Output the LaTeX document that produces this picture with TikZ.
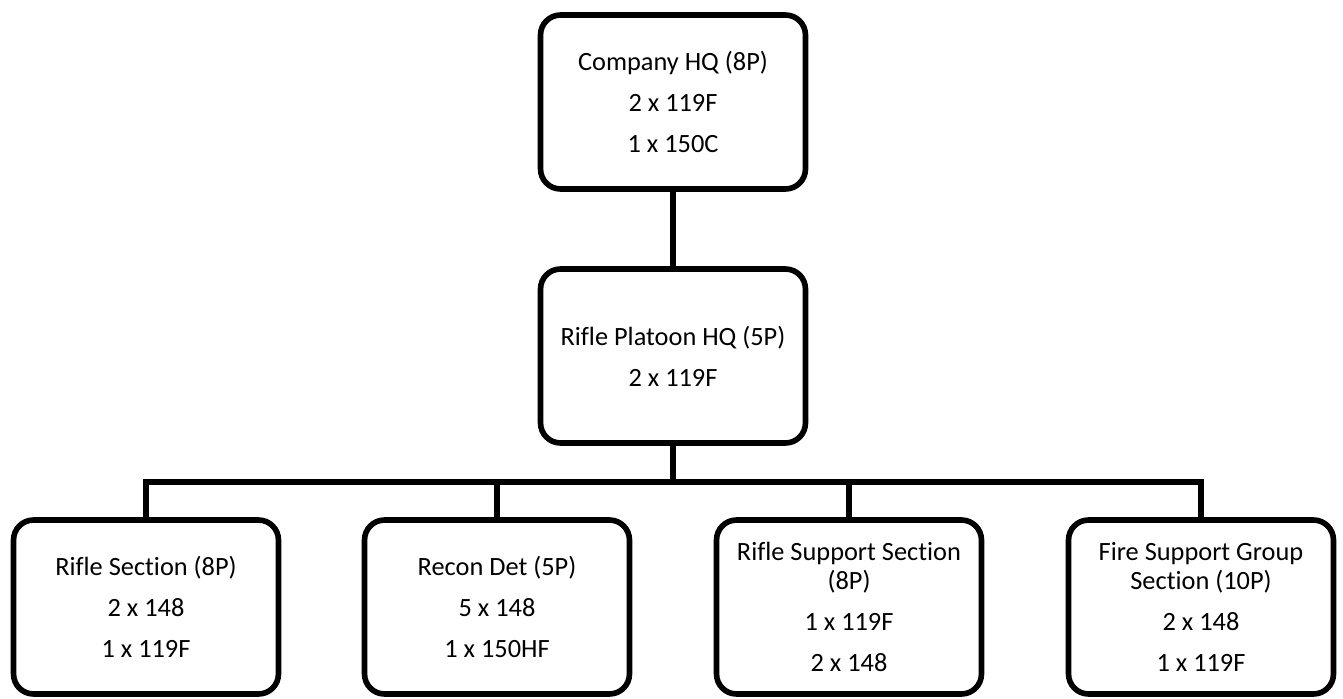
\documentclass[tikz,border=0pt]{standalone}
\usepackage{fontspec}
\setmainfont{Carlito}[Ligatures=NoCommon]

\begin{document}
\begin{tikzpicture}[x=0.02cm,y=0.02cm,
   unit/.style={draw,line width=3.2pt,rounded corners=0.4cm,align=center,
     minimum width=5.3cm,minimum height=3.48cm,
     font=\fontsize{15}{16.5}\selectfont},
   link/.style={draw,line width=3pt}]

\useasboundingbox (0,0) rectangle (1343,698);

\node[unit] (coy) at (673,596) {Company HQ (8P)\\[6.8pt] 2 x 119F\\[6.8pt] 1 x 150C};
\node[unit] (plt) at (673,342) {Rifle Platoon HQ (5P)\\[6.8pt] 2 x 119F};

\node[unit] (rs) at (146,91) {Rifle Section (8P)\\[6.8pt] 2 x 148\\[6.8pt] 1 x 119F};
\node[unit] (rd) at (497,91) {Recon Det (5P)\\[6.8pt] 5 x 148\\[6.8pt] 1 x 150HF};
\node[unit] (rss) at (849,91) {Rifle Support Section\\ (8P)\\[6.8pt] 1 x 119F\\[6.8pt] 2 x 148};
\node[unit] (fsg) at (1201,91) {Fire Support Group\\ Section (10P)\\[6.8pt] 2 x 148\\[6.8pt] 1 x 119F};

\coordinate (bus) at (673,216);

\draw[link] (coy.south) -- (plt.north);
\draw[link] (plt.south) -- (bus);
\foreach \n in {rs,rd,rss,fsg}
  \draw[link] (bus) -| (\n.north);

\end{tikzpicture}
\end{document}
